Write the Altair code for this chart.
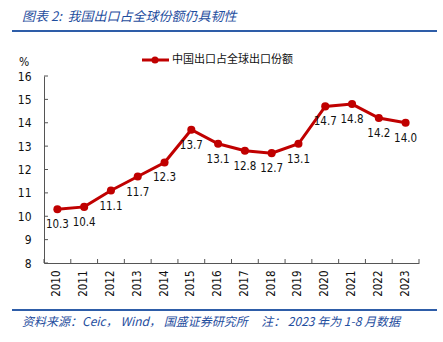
import altair as alt
import pandas as pd

years = ["2010", "2011", "2012", "2013", "2014", "2015", "2016", "2017",
         "2018", "2019", "2020", "2021", "2022", "2023"]
share = [10.3, 10.4, 11.1, 11.7, 12.3, 13.7, 13.1, 12.8, 12.7, 13.1, 14.7, 14.8, 14.2, 14.0]
labels = ["10.3", "10.4", "11.1", "11.7", "12.3", "13.7", "13.1", "12.8",
          "12.7", "13.1", "14.7", "14.8", "14.2", "14.0"]
y_ticks = [8, 9, 10, 11, 12, 13, 14, 15, 16]
series_name = "中国出口占全球出口份额"
NB = "\u00a0"
title_text = "图表" + NB + "2:" + NB + NB + "我国出口占全球份额仍具韧性"
source_text = ("资料来源：Ceic，" + NB + "Wind，" + NB + "国盛证券研究所" + NB * 5 +
               "注：" + NB + "2023" + NB + "年为" + NB + "1-8" + NB + "月数据")

W, H = 375, 187
RED = "#C00000"
BLUE = "#1F4E9E"
NUM_FONT = "DejaVu Sans Condensed"
CJK = "Noto Sans CJK SC"

df = pd.DataFrame({"year": years, "share": share, "label": labels})
ticks_df = pd.DataFrame({"v": y_ticks})

x_scale = alt.Scale(domain=years, paddingInner=0, paddingOuter=0)
x_axis = alt.Axis(title=None, labelAngle=270, labelAlign="right", labelBaseline="middle",
                  labelPadding=7, tickSize=0, domainColor="#555",
                  labelFont=NUM_FONT, labelFontSize=11.5, labelColor="#111")
y_scale = alt.Scale(domain=[8, 16], nice=False, zero=False)
y_axis = alt.Axis(title=None, values=y_ticks, tickSize=0, labelPadding=13,
                  labelOverlap=False, domainColor="#555", grid=False,
                  labelFont=NUM_FONT, labelFontSize=12, labelColor="#111")


def X(field="year:O", **kw):
    return alt.X(field, scale=x_scale, axis=x_axis, **kw)


def Y(field="share:Q"):
    return alt.Y(field, scale=y_scale, axis=y_axis)


base = alt.Chart(df)
line = base.mark_line(color=RED, strokeWidth=3).encode(x=X(), y=Y())
pts = base.mark_circle(color=RED, size=65, opacity=1).encode(x=X(), y=Y())
txt = base.mark_text(dy=16, font=NUM_FONT, fontSize=11.5, color="#111").encode(
    x=X(), y=Y(), text="label:N")

ytick_marks = alt.Chart(ticks_df).mark_rule(color="#555", strokeWidth=1).encode(
    y=Y("v:Q"), x=alt.value(0), x2=alt.value(4))
xtick_marks = base.mark_rule(color="#555", strokeWidth=1).encode(
    x=X(bandPosition=0), y=alt.value(H - 4), y2=alt.value(H))
xtick_end = base.transform_filter(alt.datum.year == "2023").mark_rule(color="#555", strokeWidth=1).encode(
    x=X(bandPosition=1), y=alt.value(H - 4), y2=alt.value(H))

deco_df = pd.DataFrame({"t": [title_text, source_text, "%", series_name]})

title = alt.Chart(deco_df).transform_filter(alt.datum.t == title_text).mark_text(
    font=CJK, fontSize=13, fontStyle="italic", color=BLUE, align="left", baseline="middle").encode(
    text="t:N", x=alt.value(22 - 44), y=alt.value(17 - 76))
source = alt.Chart(deco_df).transform_filter(alt.datum.t == source_text).mark_text(
    font=CJK, fontSize=12, fontStyle="italic", color=BLUE, align="left", baseline="middle").encode(
    text="t:N", x=alt.value(22 - 44), y=alt.value(322 - 76))
pct = alt.Chart(deco_df).transform_filter(alt.datum.t == "%").mark_text(
    font=NUM_FONT, fontSize=12, color="#111", align="center", baseline="middle").encode(
    text="t:N", x=alt.value(24 - 44), y=alt.value(62 - 76))
leg_text = alt.Chart(deco_df).transform_filter(alt.datum.t == series_name).mark_text(
    font=CJK, fontSize=11, color="#111", align="left", baseline="middle").encode(
    text="t:N", x=alt.value(172 - 44), y=alt.value(60 - 76))
leg_line = alt.Chart(deco_df).transform_filter(alt.datum.t == series_name).mark_rule(
    color=RED, strokeWidth=3).encode(x=alt.value(142 - 44), x2=alt.value(169 - 44), y=alt.value(60 - 76))
leg_pt = alt.Chart(deco_df).transform_filter(alt.datum.t == series_name).mark_circle(
    color=RED, size=50, opacity=1).encode(x=alt.value(155 - 44), y=alt.value(60 - 76))
top_rule = alt.Chart(deco_df).transform_filter(alt.datum.t == "%").mark_rule(
    color="#2E5DA8", strokeWidth=2).encode(x=alt.value(12 - 44), x2=alt.value(437 - 44), y=alt.value(31 - 76))
bot_rule = alt.Chart(deco_df).transform_filter(alt.datum.t == "%").mark_rule(
    color="#2E5DA8", strokeWidth=2).encode(x=alt.value(12 - 44), x2=alt.value(437 - 44), y=alt.value(310 - 76))

chart = alt.layer(
    line, pts, txt, ytick_marks, xtick_marks, xtick_end,
    title, source, pct, leg_text, leg_line, leg_pt, top_rule, bot_rule
).properties(
    width=W, height=H,
    autosize=alt.AutoSizeParams(type="none"),
    padding={"left": 44, "top": 76, "right": 443 - 44 - W, "bottom": 342 - 76 - H},
    background="white",
).configure_view(stroke=None).configure_axis(labelOverlap=False)

chart.save("out.html", embed_options={"renderer": "svg", "actions": False})
